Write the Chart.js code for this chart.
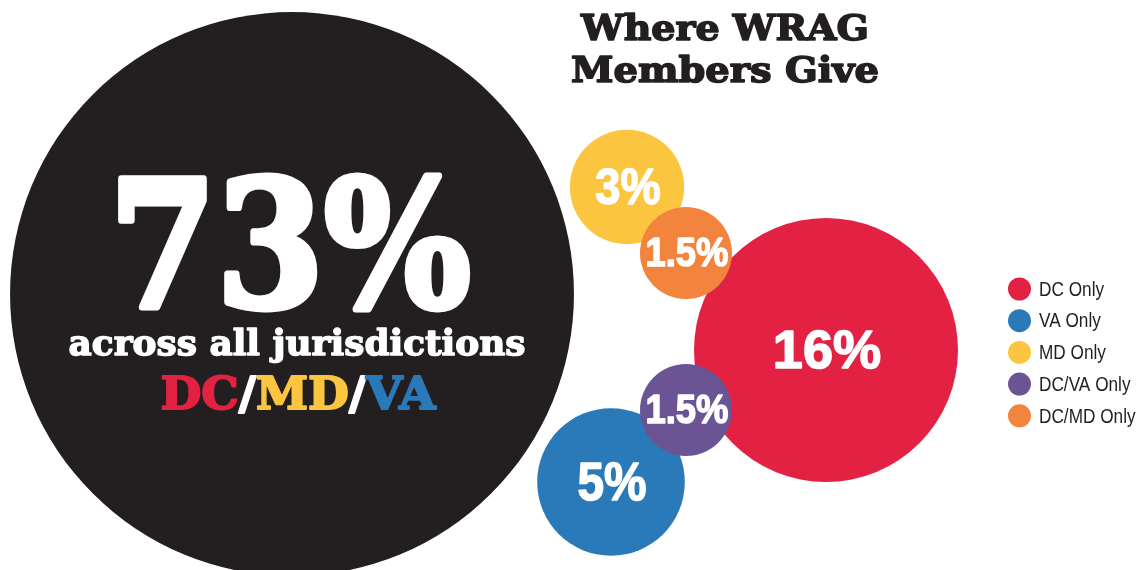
<!DOCTYPE html>
<html>
<head>
<meta charset="utf-8">
<script src="https://cdn.jsdelivr.net/npm/chart.js@4.4.0/dist/chart.umd.min.js"></script>
<style>
html, body { margin: 0; padding: 0; background: #fff; }
#wrap { width: 1143px; height: 570px; position: relative; }
</style>
</head>
<body>
<div id="wrap"><canvas id="myChart"></canvas></div>
<script>
// share of WRAG members giving in each area (percent)
const groups = ["DC Only", "VA Only", "MD Only", "DC/VA Only", "DC/MD Only", "All jurisdictions"];
const shares = [16, 5, 3, 1.5, 1.5, 73];
const shareLabels = ["16%", "5%", "3%", "1.5%", "1.5%", "73%"];
// bubble centres (x / y values of the bubble chart)
const bubbleX = [826, 611, 627, 686, 686, 292];
const bubbleY = [350, 482, 187, 410, 253, 294];
const inLegend = [true, true, true, true, true, false];

const barColors = ["#e32143", "#2a79b8", "#fcc540", "#6a5494", "#f2843e", "#231f20"];
const drawOrder = [2, 3, 4, 0, 1, 5]; // small bubbles sit on top

const RED = "#e32143", YELLOW = "#fcc540", BLUE = "#2a79b8";

function radiusFor(v) {
    return Math.max(33 * Math.sqrt(v), 46);
}

// draw text centred at x, squeezed/stretched to a width, with an optional stroke to make it heavier
function fitText(ctx, text, x, y, font, width, heavy) {
    ctx.save();
    ctx.font = font;
    let w = ctx.measureText(text).width;
    ctx.translate(x, y);
    ctx.scale(width / w, 1);
    ctx.textAlign = "center";
    if (heavy) {
        ctx.lineWidth = heavy;
        ctx.lineJoin = "round";
        ctx.strokeStyle = ctx.fillStyle;
        ctx.strokeText(text, 0, 0);
    }
    ctx.fillText(text, 0, 0);
    ctx.restore();
}

const bubbleText = {
    id: "bubbleText",
    afterDatasetsDraw(chart) {
        const ctx = chart.ctx;
        ctx.save();
        ctx.fillStyle = "#fff";
        ctx.textBaseline = "alphabetic";
        chart.data.datasets.forEach(function(ds, i) {
            const el = chart.getDatasetMeta(i).data[0];
            const x = el.x, y = el.y, r = ds.data[0].r;
            if (i == 5) {
                fitText(ctx, shareLabels[i], x - 2, y + 13, "bold 176px 'DejaVu Serif'", 362, 7);
                fitText(ctx, "across all jurisdictions", x + 5, y + 61, "bold 36px 'DejaVu Serif'", 457, 1.5);
                // DC/MD/VA in the three colours
                const parts = [["DC", RED], ["/", "#fff"], ["MD", YELLOW], ["/", "#fff"], ["VA", BLUE]];
                ctx.font = "bold 45px 'DejaVu Serif'";
                let total = 0;
                parts.forEach(p => total += ctx.measureText(p[0]).width);
                const k = 275 / total;
                ctx.save();
                ctx.translate(x + 6 - 275 / 2, y + 115);
                ctx.scale(k, 1);
                ctx.textAlign = "left";
                ctx.lineWidth = 2;
                ctx.lineJoin = "round";
                let px = 0;
                parts.forEach(function(p) {
                    ctx.fillStyle = p[1];
                    ctx.strokeStyle = p[1];
                    ctx.strokeText(p[0], px, 0);
                    ctx.fillText(p[0], px, 0);
                    px += ctx.measureText(p[0]).width;
                });
                ctx.restore();
                ctx.fillStyle = "#fff";
            } else {
                const cap = Math.min(38, r * 0.63);
                const size = cap / 0.716;
                ctx.font = "bold " + size + "px 'Liberation Sans'";
                const squeeze = r > 100 ? 1.02 : 0.9;
                const w = ctx.measureText(shareLabels[i]).width * squeeze;
                fitText(ctx, shareLabels[i], x + 1, y + cap / 2 - 1, ctx.font, w, 1.5);
            }
        });
        ctx.restore();
    },
    afterDraw(chart) {
        const ctx = chart.ctx;
        ctx.save();
        // title
        ctx.fillStyle = "#231f20";
        fitText(ctx, "Where WRAG", 725, 40, "bold 36px 'DejaVu Serif'", 288, 1.6);
        fitText(ctx, "Members Give", 725, 82, "bold 36px 'DejaVu Serif'", 308, 1.6);
        // legend
        let row = 0;
        chart.data.datasets.forEach(function(ds, i) {
            if (!inLegend[i]) return;
            const cy = 289 + row * 31.7;
            ctx.beginPath();
            ctx.arc(1019.5, cy, 11.5, 0, Math.PI * 2);
            ctx.fillStyle = ds.backgroundColor;
            ctx.fill();
            ctx.fillStyle = "#231f20";
            ctx.font = "21px 'Liberation Sans'";
            ctx.textBaseline = "middle";
            ctx.save();
            ctx.translate(1039, cy + 1);
            ctx.scale(0.82, 1);
            ctx.textAlign = "left";
            ctx.fillText(ds.label, 0, 0);
            ctx.restore();
            row++;
        });
        ctx.restore();
    }
};

new Chart("myChart", {
    type: "bubble",
    data: {
        datasets: groups.map(function(g, i) {
            return {
                label: g,
                data: [{ x: bubbleX[i], y: bubbleY[i], r: radiusFor(shares[i]) }],
                backgroundColor: barColors[i],
                hoverBackgroundColor: barColors[i],
                borderWidth: 0,
                hoverBorderWidth: 0,
                clip: false,
                order: drawOrder[i]
            };
        })
    },
    options: {
        responsive: true,
        maintainAspectRatio: false,
        animation: false,
        events: [],
        layout: { padding: 0, autoPadding: false },
        scales: {
            x: { type: "linear", min: 0, max: 1143, display: false },
            y: { type: "linear", min: 0, max: 570, reverse: true, display: false }
        },
        plugins: {
            legend: { display: false },
            tooltip: { enabled: false }
        }
    },
    plugins: [bubbleText]
});
</script>
</body>
</html>
